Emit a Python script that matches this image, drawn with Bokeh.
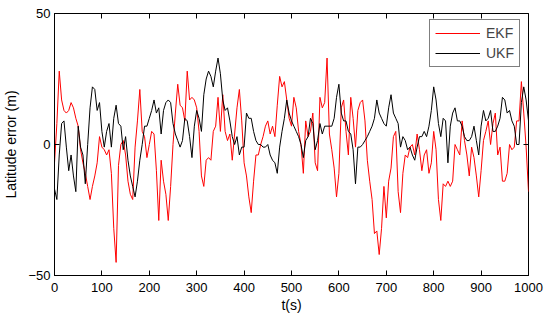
from bokeh.plotting import figure
from bokeh.models import LinearAxis, FixedTicker, Range1d, Legend, LegendItem
from bokeh.embed import file_html
from bokeh.resources import INLINE

t = list(range(0, 1001, 5))

ekf = [-7, 8, 28, 17, 13, 12, 13, 16, 14, 10, 7, -2, -7, -11, -16, -21, -16, -12, -7, 3,
       -1, -2, -4, -2, -11, -32, -45, -8, 0, 1.5, -4, -14, -19, -21, -1, 9, 21, 5, 3, -5,
       0, 5, 4, -10, -29, -6, -14, -19, -29, -16, 0, 12, 23, 15, 14, 9, 28, 17, 18, 17,
       14, 5, -12, -16, -6, -5, -6, 5, 7, 18, 5, 19, 5, 1.5, 4, -6, 4, 14, 21, 9,
       -7, -12, -20, -26, -14, -4, -4, 0, 3, 7, 9, 4, 7, 3, 15, 26, 22, 24, 17, 10,
       7, 18, 14, 5, 0, -11, 9, 3, 5, 12, -7, -10, 18, 14, 16, 33, 4, -2, -9, -20,
       -11, 14, 17, 5, -4, 18, 10, -1, 13, 16, 17, 9, -6, -14, -21, -34, -33, -42, -32, -16,
       -28, -14, -9, 3, 5, -18, -26, -11, -4, -5, -1, 0, -4, 4, -2, -10, -4, -2, -11, -7,
       5, -2, -21, -29, -15, -16, -14, -16, -14, 0, -2, -4, 9, 1.5, -4, -12, -1, -5, -12, -20,
       -10, 1.5, 5, 9, 0, 8, 12, -4, -1, -14, -14, -11, 0, -2, -1, 9, 9, 24, 12, -1,
       -18]

ukf = [-17, -21, -4, 8, 9, -1, -10, -4, -12, -18, 7, -1, -4, -15, 0, 14, 22, 21, 13, 16,
       5, -1, 5, 8, -1, 10, 15, 8, 7, -2, 3, -6, -12, -16, -20, -14, -6, 0, 7, 7,
       10, 13, 17, 12, 14, 4, 13, 16, 17, 16, 8, 4, 1.5, -1, 1.5, 10, 9, 3, -5, 7,
       13, 10, 5, 19, 25, 28, 26, 22, 28, 33, 27, 17, 13, 14, 9, 3, 0, 3, -4, -1,
       -1, 12, 10, 10, 5, 1.5, 0, 0, -1, -1, 0, -4, -6, -7, -11, -1, 5, 10, 17, 12,
       9, 7, 5, 3, 0, -5, 1.5, 3, 10, 8, -2, 1.5, 8, 4, 7, 7, 7, 7, 10, 18,
       23, 12, 9, 9, 5, 4, -2, -15, -1, -1, 0, 1.5, 3, 5, 7, 10, 17, 12, 10, 8,
       7, 14, 19, 12, 10, 8, -1, 3, 1.5, -2, -1, -4, -6, -1, 3, 3, 5, 3, 7, 13,
       22, 17, 8, 3, 10, 9, -7, 7, 12, 14, 9, 9, 7, 3, 1.5, 1.5, 3, 7, 1.5, -4,
       7, 13, 9, 10, 13, 5, 5, 7, 10, 18, 17, 12, 13, 9, 7, 0, 0, 16, 22, 17,
       9]

xticks = list(range(0, 1001, 100))
yticks = [-50, 0, 50]

FONT = "Liberation Sans"

p = figure(width=550, height=321, output_backend="svg", toolbar_location=None,
           x_range=Range1d(0, 1000), y_range=Range1d(-50, 50),
           min_border_left=54, min_border_right=22, min_border_top=13, min_border_bottom=46)

p.grid.visible = False
p.outline_line_color = "black"
p.outline_line_width = 1
p.background_fill_color = "white"
p.border_fill_color = "white"

r_ekf = p.line(t, ekf, line_color="#ff0000", line_width=1)
r_ukf = p.line(t, ukf, line_color="black", line_width=1)

for ax in p.xaxis:
    ax.ticker = FixedTicker(ticks=xticks)
    ax.axis_label = "t(s)"
for ax in p.yaxis:
    ax.ticker = FixedTicker(ticks=yticks)
    ax.axis_label = "Latitude error (m)"

for ax in p.xaxis + p.yaxis:
    ax.major_tick_in = 5
    ax.major_tick_out = 0
    ax.minor_tick_line_color = None
    ax.axis_line_color = "black"
    ax.major_tick_line_color = "black"
    ax.major_label_text_font = FONT
    ax.major_label_text_font_size = "13px"
    ax.major_label_text_color = "black"
    ax.axis_label_text_font = FONT
    ax.axis_label_text_font_size = "14px"
    ax.axis_label_text_font_style = "normal"
    ax.axis_label_text_color = "black"
p.xaxis.major_label_standoff = 7
p.xaxis.axis_label_standoff = 2
p.yaxis.major_label_standoff = 4
p.yaxis.axis_label_standoff = 6

top = LinearAxis(ticker=FixedTicker(ticks=xticks), major_tick_in=5, major_tick_out=0,
                 minor_tick_line_color=None, major_label_text_font_size="1px",
                 major_label_text_color=None, major_label_standoff=0, axis_line_color=None)
right = LinearAxis(ticker=FixedTicker(ticks=yticks), major_tick_in=5, major_tick_out=0,
                   minor_tick_line_color=None, major_label_text_font_size="1px",
                   major_label_text_color=None, major_label_standoff=0, axis_line_color=None)
p.add_layout(top, "above")
p.add_layout(right, "right")

legend = Legend(items=[LegendItem(label="EKF", renderers=[r_ekf]),
                       LegendItem(label="UKF", renderers=[r_ukf])],
                location=(375, 208))
legend.border_line_color = "black"
legend.border_line_width = 1
legend.background_fill_alpha = 1
legend.label_text_font = FONT
legend.label_text_font_size = "14px"
legend.glyph_width = 45
legend.glyph_height = 16
legend.label_height = 16
legend.label_standoff = 6
legend.spacing = 4
legend.padding = 5
legend.margin = 0
p.add_layout(legend)

open("out.html", "w").write(file_html(p, INLINE))
